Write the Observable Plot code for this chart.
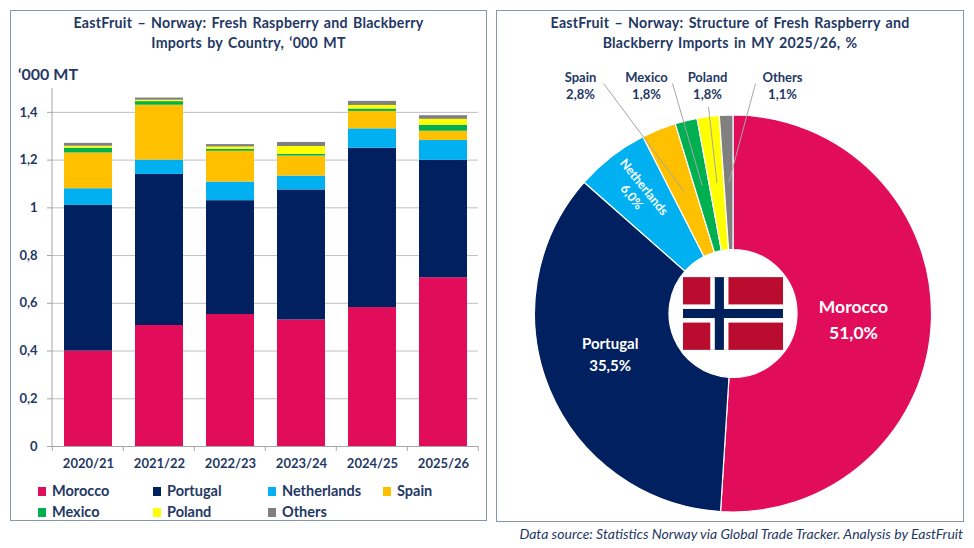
<!DOCTYPE html>
<html>
<head>
<meta charset="utf-8">
<script src="https://cdn.jsdelivr.net/npm/d3@7"></script>
<script src="https://cdn.jsdelivr.net/npm/@observablehq/plot@0.6"></script>
<style>
  body { margin: 0; background: #fff; font-family: Lato, "Open Sans", sans-serif; color: #1f3864; }
  #page { position: relative; width: 974px; height: 548px; overflow: hidden; }
  .panel { position: absolute; border: 1.5px solid #8497b0; box-sizing: border-box; }
  .title { position: absolute; text-align: center; font-weight: bold; font-size: 14.2px; line-height: 20px; letter-spacing: 0.25px; word-spacing: 1.5px; }
  .abs { position: absolute; }
  .legend { position: absolute; left: 38px; top: 482px; font-weight: bold; font-size: 14.5px; }
  .legend span.item { position: absolute; white-space: nowrap; line-height: 18px; }
  .legend i { display: inline-block; width: 8px; height: 9px; margin-right: 6px; }
  #caption { position: absolute; right: 11px; top: 525px; font-style: italic; font-size: 14px; white-space: nowrap; }
</style>
</head>
<body>
<div id="page">
  <div class="panel" style="left:10px;top:10px;width:477px;height:511px"></div>
  <div class="panel" style="left:496px;top:10px;width:468px;height:512px"></div>
  <div class="title" style="left:10px;top:13px;width:477px">EastFruit – Norway: Fresh Raspberry and Blackberry<br>Imports by Country, ‘000 MT</div>
  <div class="title" style="left:496px;top:13px;width:468px">EastFruit – Norway: Structure of Fresh Raspberry and<br>Blackberry Imports in MY 2025/26, %</div>
  <div class="abs" style="left:18px;top:64px;font-weight:bold;font-size:16px">‘000 MT</div>
  <div id="bar" class="abs" style="left:10px;top:60px"></div>
  <div id="legend" class="legend"></div>
  <div id="pie" class="abs" style="left:496px;top:60px"></div>
  <div id="caption">Data source: Statistics Norway via Global Trade Tracker. Analysis by EastFruit</div>
</div>
<script>
// marketing years and countries
const years = ["2020/21", "2021/22", "2022/23", "2023/24", "2024/25", "2025/26"];
const countries = ["Morocco", "Portugal", "Netherlands", "Spain", "Mexico", "Poland", "Others"];
const colors = ["#e10c5a", "#002060", "#00b0f0", "#ffc000", "#00b050", "#ffff00", "#808080"];

// imports, '000 MT
const morocco     = [0.400, 0.507, 0.553, 0.530, 0.582, 0.707];
const portugal    = [0.610, 0.633, 0.477, 0.545, 0.668, 0.492];
const netherlands = [0.070, 0.060, 0.078, 0.058, 0.081, 0.083];
const spain       = [0.150, 0.230, 0.129, 0.084, 0.073, 0.039];
const mexico      = [0.020, 0.015, 0.008, 0.007, 0.010, 0.025];
const poland      = [0.008, 0.006, 0.010, 0.033, 0.015, 0.025];
const others      = [0.012, 0.009, 0.010, 0.017, 0.017, 0.015];

const yTicks = [0, 0.2, 0.4, 0.6, 0.8, 1, 1.2, 1.4];

// structure in MY 2025/26, %
const pieShares = [51.0, 35.5, 6.0, 2.8, 1.8, 1.8, 1.1];

const navy = "#1f3864";
const comma = d => String(d).replace(".", ",");

// ---- stacked bars ----
const series = [morocco, portugal, netherlands, spain, mexico, poland, others];
const rows = [];
series.forEach((vals, i) => vals.forEach((v, j) => rows.push({year: years[j], country: countries[i], value: v})));

const padIn = 0.33, padOut = 0.165;

const barPlot = Plot.plot({
  width: 477,
  height: 420,
  marginTop: 28,
  marginBottom: 34,
  marginLeft: 42,
  marginRight: 9,
  style: {fontFamily: "Lato, sans-serif", fontSize: "13px", fontWeight: "bold", color: navy, background: "transparent"},
  x: {domain: years, paddingInner: padIn, paddingOuter: padOut, label: null},
  y: {domain: [0, 1.5], label: null},
  color: {domain: countries, range: colors},
  marks: [
    Plot.gridY(yTicks, {stroke: "#bfbfbf", strokeOpacity: 1}),
    Plot.barY(rows, {x: "year", y: "value", fill: "country"}),
    Plot.ruleY([0], {stroke: "#a6a6a6"}),
    Plot.axisY({ticks: yTicks, tickFormat: comma, tickSize: 5, tickPadding: 10, stroke: "#a6a6a6", fill: navy, label: null}),
    Plot.axisX({tickSize: 0, tickPadding: 12, fill: navy, label: null}),
    // y axis line and the tick marks between categories
    (index, scales, values, dims) => {
      const g = d3.create("svg:g").attr("stroke", "#a6a6a6");
      const x = scales.x, y = scales.y;
      const step = x(years[1]) - x(years[0]);
      const bw = step * (1 - padIn);
      g.append("line").attr("x1", dims.marginLeft).attr("x2", dims.marginLeft)
        .attr("y1", y(1.5)).attr("y2", y(0));
      const bounds = years.map(c => x(c) - (step - bw) / 2);
      bounds.push(x(years[years.length - 1]) + bw + (step - bw) / 2);
      bounds.forEach(b => g.append("line").attr("x1", b).attr("x2", b).attr("y1", y(0)).attr("y2", y(0) + 5));
      return g.node();
    }
  ]
});
document.getElementById("bar").appendChild(barPlot);

// legend
const legendCols = [0, 115, 230, 345];
const legend = document.getElementById("legend");
countries.forEach((c, i) => {
  const s = document.createElement("span");
  s.className = "item";
  s.style.left = legendCols[i % 4] + "px";
  s.style.top = (Math.floor(i / 4) * 21) + "px";
  s.innerHTML = `<i style="background:${colors[i]}"></i>${c}`;
  legend.appendChild(s);
});

// ---- donut ----
const W = 468, H = 460, cx = 237, cy = 253.5, R = 198.5, R0 = 64;
const arcs = d3.pie().sort(null).value(d => d)(pieShares);
const arcGen = d3.arc().innerRadius(R0).outerRadius(R);
const at = r => d3.arc().innerRadius(r).outerRadius(r);
const pct = v => v.toFixed(1).replace(".", ",") + "%";

// labels inside the big slices
const [mx, my] = at(122).centroid(arcs[0]);
const morLabel = [{x: cx + mx, y: cy + my, text: countries[0] + "\n" + pct(pieShares[0])}];
const [px, py] = at(127).centroid(arcs[1]);
const porLabel = [{x: cx + px, y: cy + py, text: countries[1] + "\n" + pct(pieShares[1])}];
const [nx, ny] = at(155).centroid(arcs[2]);
const nethLabel = [{x: cx + nx, y: cy + ny, text: countries[2] + "\n" + pct(pieShares[2])}];

// outside labels for the small slices, with leader lines
const outX = [84, 150, 211, 286];
const leadStart = [[23, -1.5], [26, -1.5], [1, 22], [-27, -1.5]];
const outer = [3, 4, 5, 6].map((i, k) => {
  const [ex, ey] = at(132).centroid(arcs[i]);
  return {
    x: outX[k], y: 24.5, text: countries[i] + "\n" + pct(pieShares[i]),
    x1: outX[k] + leadStart[k][0], y1: 24.5 + leadStart[k][1], x2: cx + ex, y2: cy + ey
  };
});

const piePlot = Plot.plot({
  width: W,
  height: H,
  margin: 0,
  style: {fontFamily: "Lato, sans-serif", fontWeight: "bold", background: "transparent"},
  x: {type: "identity", axis: null},
  y: {type: "identity", axis: null},
  marks: [
    () => {
      const g = d3.create("svg:g").attr("transform", `translate(${cx},${cy})`);
      g.selectAll("path").data(arcs).join("path")
        .attr("d", arcGen)
        .attr("fill", (d, i) => colors[i])
        .attr("stroke", "#fff")
        .attr("stroke-width", 1.2);
      return g.node();
    },
    Plot.link(outer, {x1: "x1", y1: "y1", x2: "x2", y2: "y2", stroke: "#a6a6a6", strokeWidth: 1}),
    Plot.text(outer, {x: "x", y: "y", text: "text", fill: navy, fontSize: 13, lineHeight: 1.3}),
    Plot.text(morLabel, {x: "x", y: "y", dx: -2, text: "text", fill: "#fff", fontSize: 17.5, lineHeight: 1.45}),
    Plot.text(porLabel, {x: "x", y: "y", dx: -6, dy: -10, text: "text", fill: "#fff", fontSize: 15, lineHeight: 1.5}),
    Plot.text(nethLabel, {x: "x", y: "y", text: "text", fill: "#fff", fontSize: 12.5, lineHeight: 1.25, rotate: 51}),
    // Norwegian flag in the hole
    () => {
      const u = 100 / 22;
      const g = d3.create("svg:g").attr("transform", `translate(${cx - 11 * u},${cy - 8 * u})`);
      g.append("rect").attr("width", 22 * u).attr("height", 16 * u).attr("fill", "#ba0c2f");
      g.append("rect").attr("x", 6 * u).attr("width", 4 * u).attr("height", 16 * u).attr("fill", "#fff");
      g.append("rect").attr("y", 6 * u).attr("width", 22 * u).attr("height", 4 * u).attr("fill", "#fff");
      g.append("rect").attr("x", 7 * u).attr("width", 2 * u).attr("height", 16 * u).attr("fill", "#00205b");
      g.append("rect").attr("y", 7 * u).attr("width", 22 * u).attr("height", 2 * u).attr("fill", "#00205b");
      return g.node();
    }
  ]
});
document.getElementById("pie").appendChild(piePlot);
</script>
</body>
</html>
